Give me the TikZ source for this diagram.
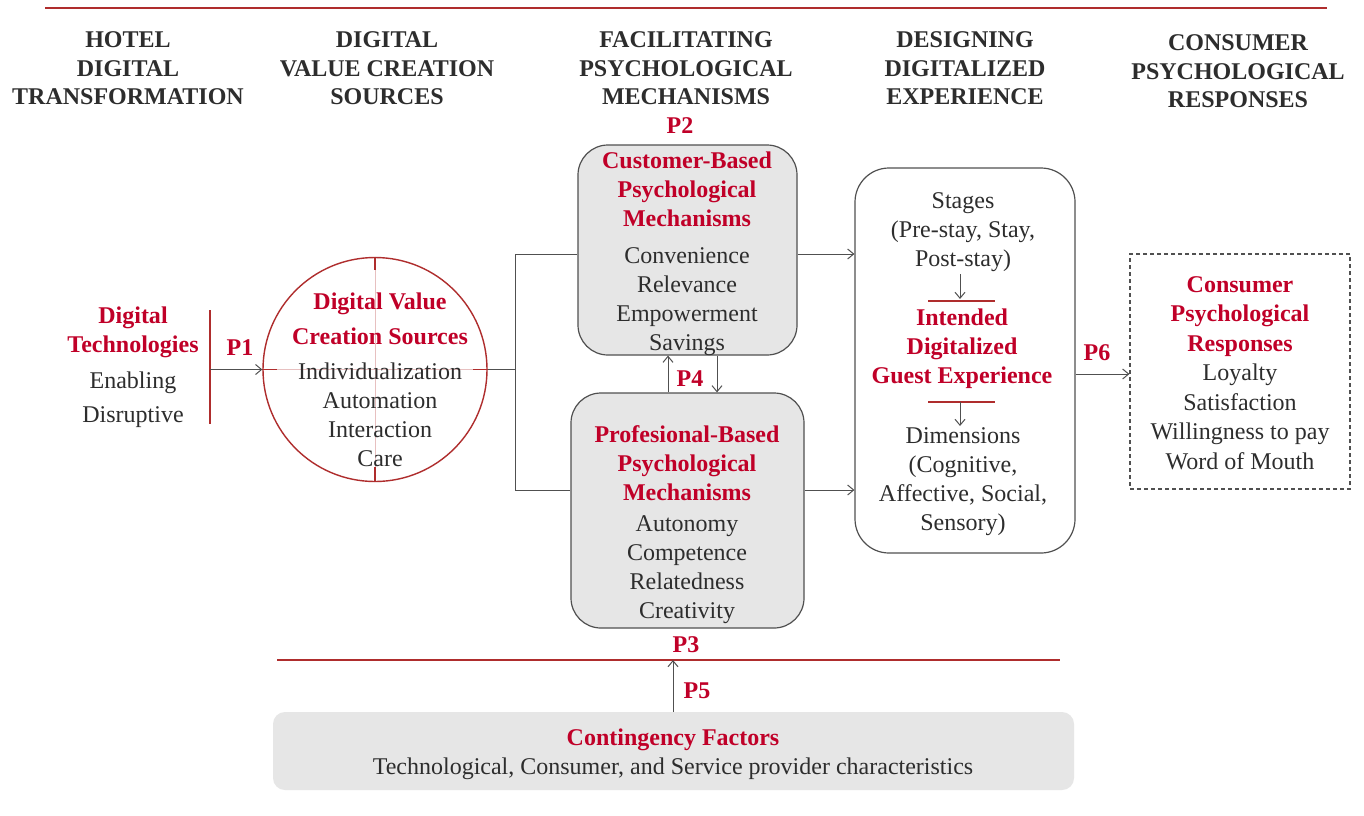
\documentclass[tikz,border=0pt]{standalone}
\usepackage{fontspec}
\setmainfont{Liberation Serif}
\usetikzlibrary{arrows.meta,calc}
\definecolor{accent}{RGB}{192,0,40}
\definecolor{lred}{RGB}{175,45,45}
\definecolor{ink}{RGB}{45,45,45}
\definecolor{boxgray}{RGB}{230,230,230}
\definecolor{edge}{RGB}{80,80,80}
\newcommand{\rb}[1]{{\color{accent}\bfseries #1}}
\begin{document}
\begin{tikzpicture}[x=0.5pt,y=-0.5pt,
 txt/.style={align=center,inner sep=0,text=ink,font=\fontsize{12}{14.5}\selectfont},
 head/.style={align=center,inner sep=0,text=ink,font=\fontsize{12}{14.25}\selectfont\bfseries},
 plabel/.style={inner sep=0,text=accent,font=\fontsize{12}{14}\selectfont\bfseries},
 grbox/.style={draw=edge,fill=boxgray,line width=0.6pt,rounded corners=15pt,inner sep=0},
 conn/.style={draw=edge,line width=0.5pt},
 arr/.style={conn,-{Straight Barb[length=3pt,width=5pt]}},
 redline/.style={draw=lred,line width=0.6pt}]

\useasboundingbox[fill=white] (0,0) rectangle (1364,815);

% top rule
\coordinate (tl) at (45,8);
\coordinate (tr) at (1327,8);
\draw[redline] (tl) -- (tr);

% headers
\node[head] (h1) at (128,68.5) {HOTEL\\DIGITAL\\TRANSFORMATION};
\node[head] (h2) at (387,68.5) {DIGITAL\\VALUE CREATION\\SOURCES};
\node[head] (h3) at (686,68.5) {FACILITATING\\PSYCHOLOGICAL\\MECHANISMS};
\node[head] (h4) at (965,68.5) {DESIGNING\\DIGITALIZED\\EXPERIENCE};
\node[head] (h5) at (1238,71.5) {CONSUMER\\PSYCHOLOGICAL\\RESPONSES};

% digital technologies
\node[txt] (dt) at (133,367.5) {\rb{Digital}\\\rb{Technologies}\\[3.5pt]Enabling\\[2.5pt]Disruptive};
\coordinate (dtt) at (210,310);
\coordinate (dtb) at (210,424);
\coordinate (dtm) at (210,369.5);
\draw[redline] (dtt) -- (dtb);

% circle
\node[circle,draw=lred,line width=0.7pt,minimum size=112pt,inner sep=0] (circ) at (375,369.5) {};
\draw[draw=lred!30,line width=0.5pt] (circ.west) -- (circ.east);
\draw[draw=lred!30,line width=0.5pt] (circ.north) -- (circ.south);
\draw[redline] (circ.west) -- ++(15,0);
\draw[redline] (circ.east) -- ++(-15,0);
\draw[redline] (circ.north) -- ++(0,13);
\draw[redline] (circ.south) -- ++(0,-15);
\node[txt] (ct) at (380,380) {\rb{Digital Value}\\[3pt]\rb{Creation Sources}\\[3pt]Individualization\\Automation\\Interaction\\Care};
\draw[arr] (dtm) -- (circ.west);
\node[plabel] (p1) at (240,348) {P1};

% mechanism boxes
\node[grbox,minimum width=109.5pt,minimum height=105pt] (cb) at (687.5,250) {};
\node[txt] (cbt) at (687,254) {\rb{Customer-Based}\\\rb{Psychological}\\\rb{Mechanisms}\\[4pt]Convenience\\Relevance\\Empowerment\\Savings};
\node[grbox,minimum width=116.5pt,minimum height=117.5pt] (pb) at (687.5,510.5) {};
\node[txt] (pbt) at (687,525) {\rb{Profesional-Based}\\\rb{Psychological}\\\rb{Mechanisms}\\[1pt]Autonomy\\Competence\\Relatedness\\Creativity};
\node[plabel] (p2) at (680,126) {P2};

% junction connectors
\coordinate (jn) at (515,369.5);
\coordinate (j1) at (515,254);
\coordinate (j2) at (515,490);
\draw[conn] (circ.east) -- (jn);
\draw[conn] (cb.west |- j1) -- (j1) -- (j2) -- (pb.west |- j2);

% P4 arrows
\coordinate (x1) at (668,0);
\coordinate (x2) at (717,0);
\draw[arr] (pb.north -| x1) -- (cb.south -| x1);
\draw[arr] (cb.south -| x2) -- (pb.north -| x2);
\node[plabel] (p4) at (690,379) {P4};

% designing experience box
\node[draw=edge,fill=white,line width=0.6pt,rounded corners=17pt,minimum width=110pt,minimum height=192.5pt,inner sep=0] (dde) at (965,360.5) {};
\draw[arr] (cb.east |- j1) -- (dde.west |- j1);
\draw[arr] (pb.east |- j2) -- (dde.west |- j2);
\node[txt] (stg) at (963,232) {Stages\\(Pre-stay, Stay,\\Post-stay)};
\node[txt] (ige) at (962,349) {\rb{Intended}\\\rb{Digitalized}\\\rb{Guest Experience}};
\node[txt] (dim) at (963,482) {Dimensions\\(Cognitive,\\Affective, Social,\\Sensory)};
\coordinate (r1l) at (928,301);
\coordinate (r1r) at (995,301);
\coordinate (r2l) at (928,402);
\coordinate (r2r) at (995,402);
\draw[redline] (r1l) -- (r1r);
\draw[redline] (r2l) -- (r2r);
\coordinate (a1s) at (960,274);
\coordinate (a1e) at (960,299);
\coordinate (a2s) at (960,402);
\coordinate (a2e) at (960,426);
\draw[arr] (a1s) -- (a1e);
\draw[arr] (a2s) -- (a2e);

% consumer responses
\node[draw=edge,dash pattern=on 2pt off 1.5pt,line width=0.6pt,minimum width=110pt,minimum height=117.5pt,inner sep=0] (cpr) at (1240,371.5) {};
\node[txt,font=\fontsize{12}{14.75}\selectfont] (cprt) at (1240,373) {\rb{Consumer}\\\rb{Psychological}\\\rb{Responses}\\Loyalty\\Satisfaction\\Willingness to pay\\Word of Mouth};
\coordinate (p6y) at (1100,374);
\draw[arr] (dde.east |- p6y) -- (cpr.west |- p6y);
\node[plabel] (p6) at (1097,353) {P6};

% contingency
\coordinate (p3l) at (277,660);
\coordinate (p3r) at (1060,660);
\draw[redline] (p3l) -- (p3r);
\node[plabel] (p3) at (686,645) {P3};
\node[fill=boxgray,rounded corners=6pt,minimum width=400.5pt,minimum height=39pt,inner sep=0] (cf) at (673.5,751) {};
\node[txt] (cft) at (673,754.5) {\rb{Contingency Factors}\\Technological, Consumer, and Service provider characteristics};
\coordinate (p5t) at (673,660);
\draw[arr] (cf.north -| p5t) -- (p5t);
\node[plabel] (p5) at (697,691) {P5};
\end{tikzpicture}
\end{document}
